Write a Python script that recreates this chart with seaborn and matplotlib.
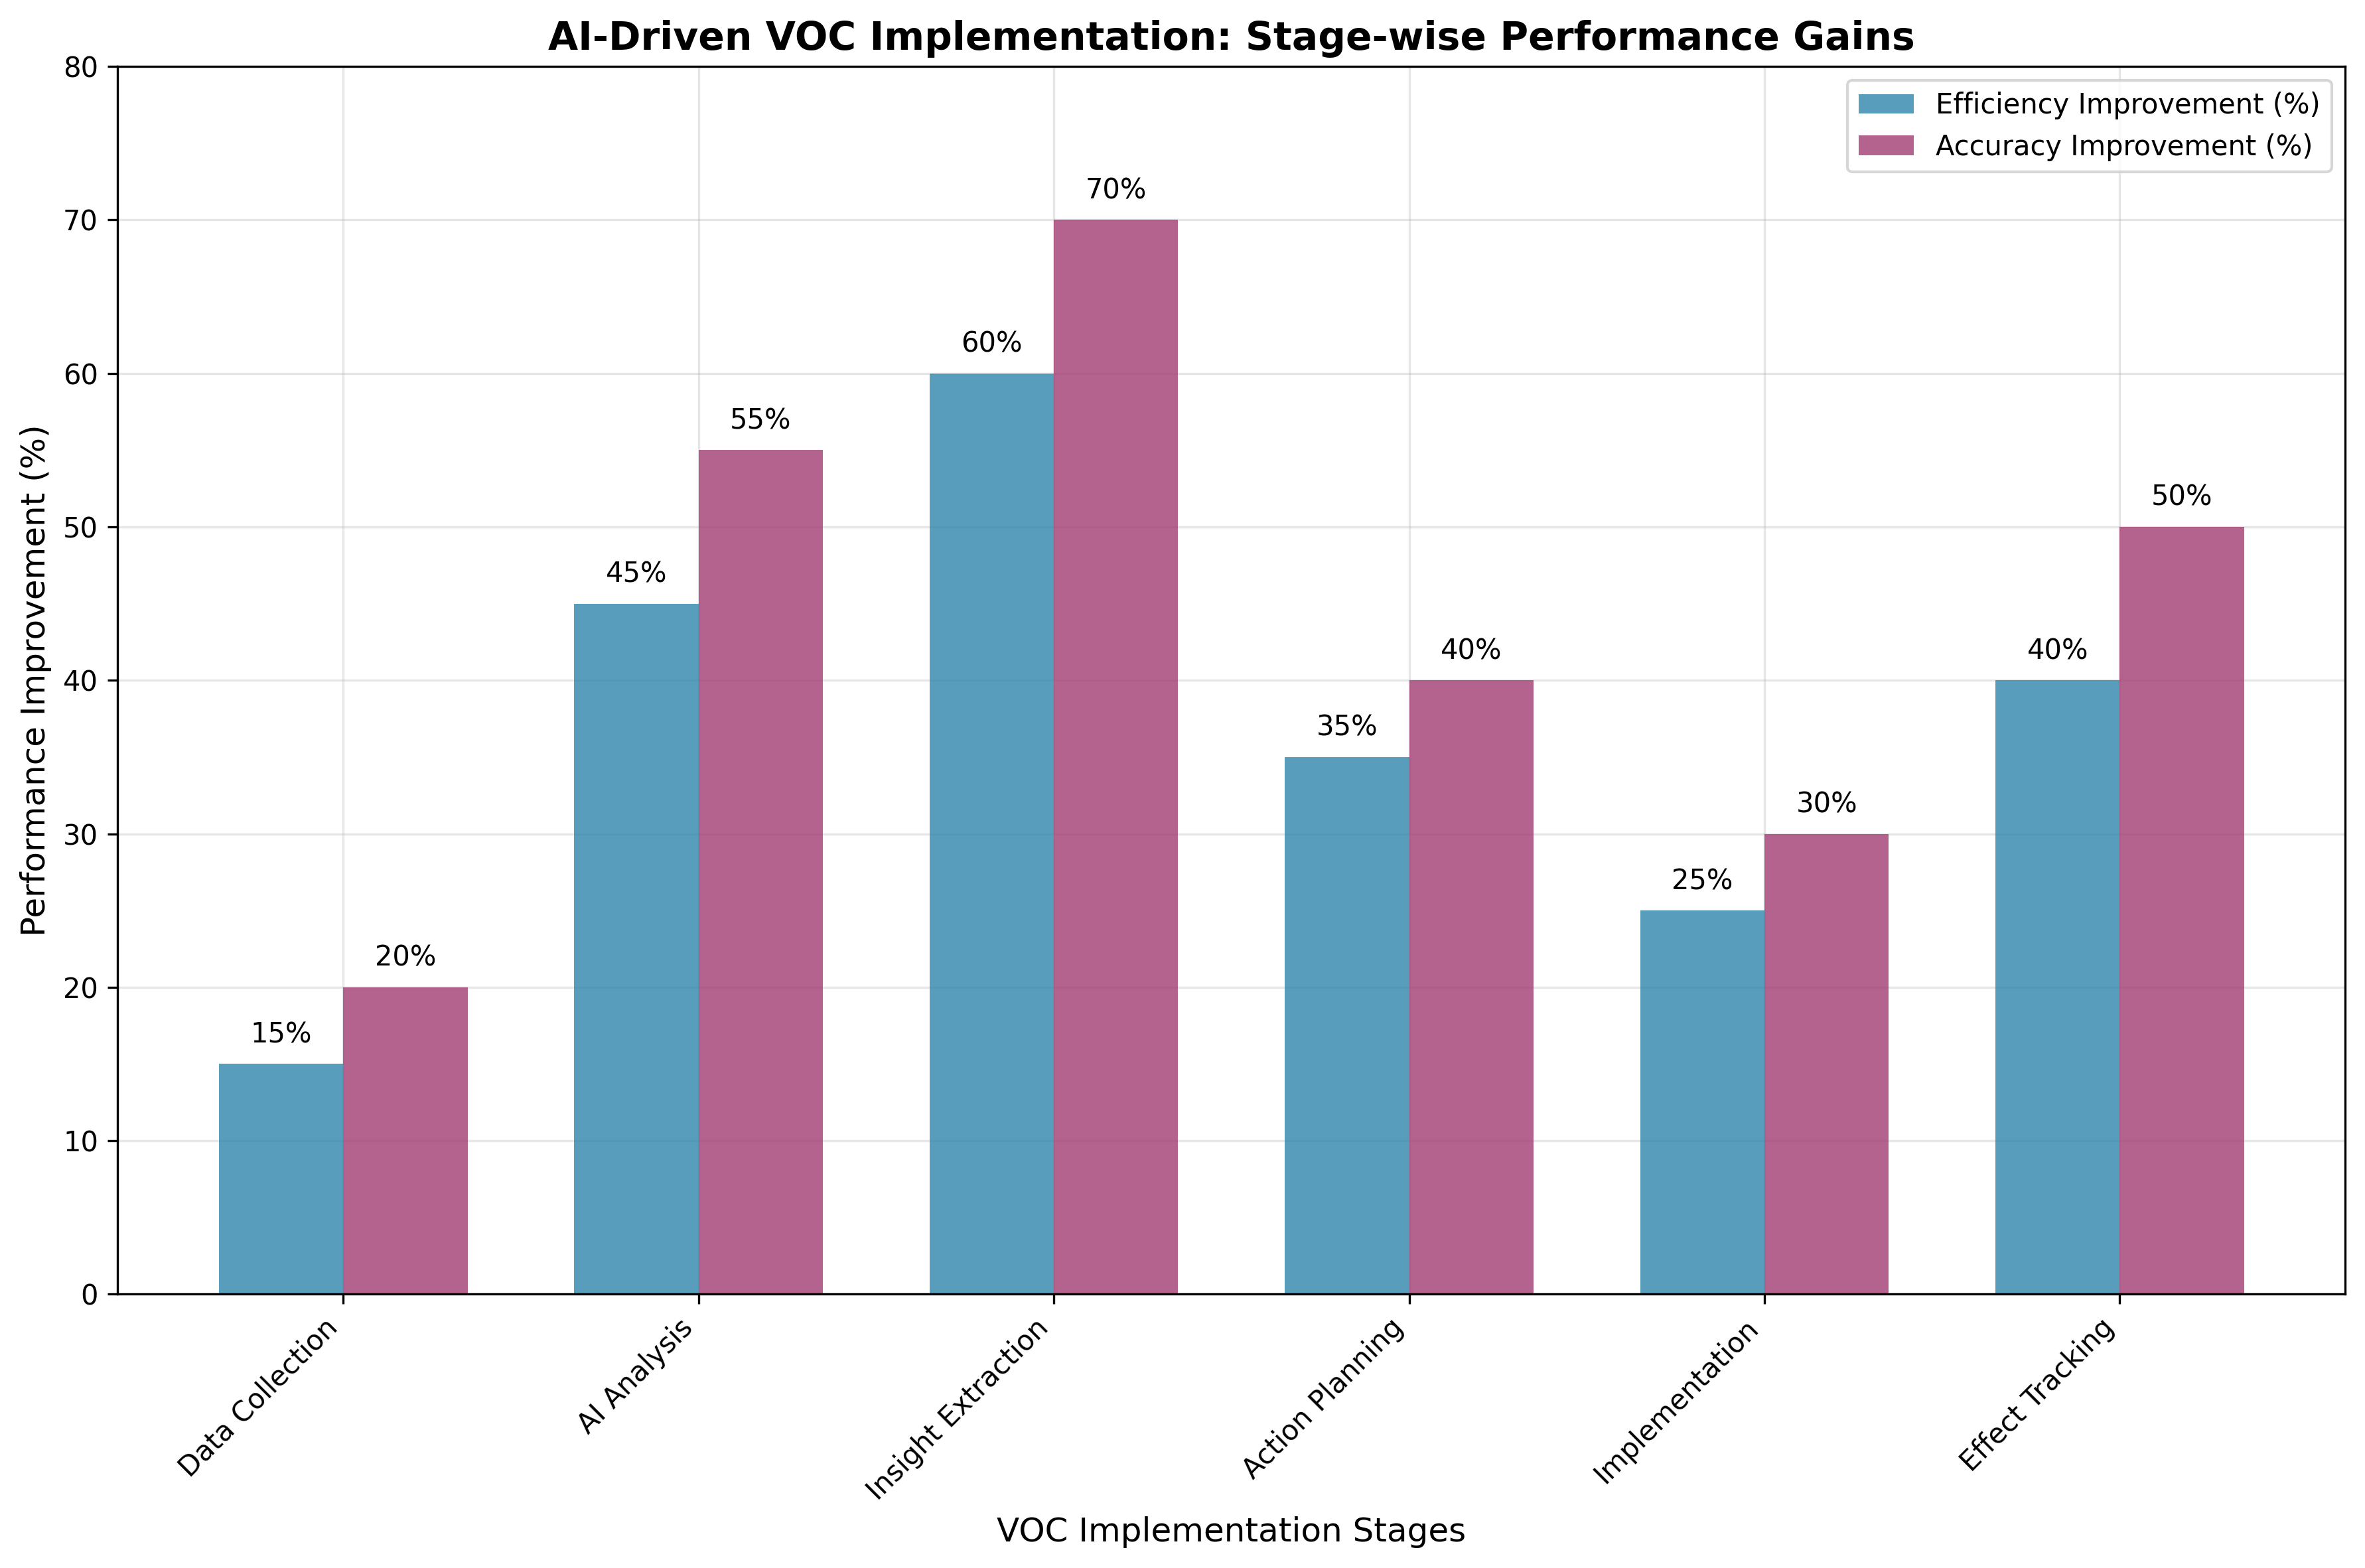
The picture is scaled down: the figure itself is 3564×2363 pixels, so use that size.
import numpy as np
import pandas as pd
import matplotlib
matplotlib.use("Agg")
import matplotlib.pyplot as plt
import seaborn as sns

# data
stages = ["Data Collection", "AI Analysis", "Insight Extraction",
          "Action Planning", "Implementation", "Effect Tracking"]
efficiency = [15, 45, 60, 35, 25, 40]
accuracy = [20, 55, 70, 40, 30, 50]

effLabel = "Efficiency Improvement (%)"
accLabel = "Accuracy Improvement (%)"

df = pd.DataFrame({"stage": stages, effLabel: efficiency, accLabel: accuracy})
long = df.melt(id_vars="stage", var_name="metric", value_name="value")

fig, ax = plt.subplots(figsize=(11.88, 7.8767), dpi=300)

sns.barplot(data=long, x="stage", y="value", hue="metric",
            palette=["#2E86AB", "#A23B72"], alpha=0.8, width=0.7,
            saturation=1, ax=ax, linewidth=0)

ax.grid(True, alpha=0.3)
ax.set_axisbelow(True)

# value labels above bars
for container in ax.containers:
    for bar in container:
        h = bar.get_height()
        ax.text(bar.get_x() + bar.get_width() / 2, h + 1, "%d%%" % h,
                ha="center", va="bottom", fontsize=10)

ax.set_ylim(0, 80)
ax.set_xlim(-0.635, 5.635)
ax.set_xlabel("VOC Implementation Stages", fontsize=12)
ax.set_ylabel("Performance Improvement (%)", fontsize=12)
ax.set_title("AI-Driven VOC Implementation: Stage-wise Performance Gains",
             fontsize=14, fontweight="bold")
plt.setp(ax.get_xticklabels(), rotation=45, ha="right")
ax.legend(loc="upper right", title=None)

plt.subplots_adjust(left=0.0497, right=0.9917, top=0.9576, bottom=0.1746)
plt.savefig("out.png", dpi=300)
